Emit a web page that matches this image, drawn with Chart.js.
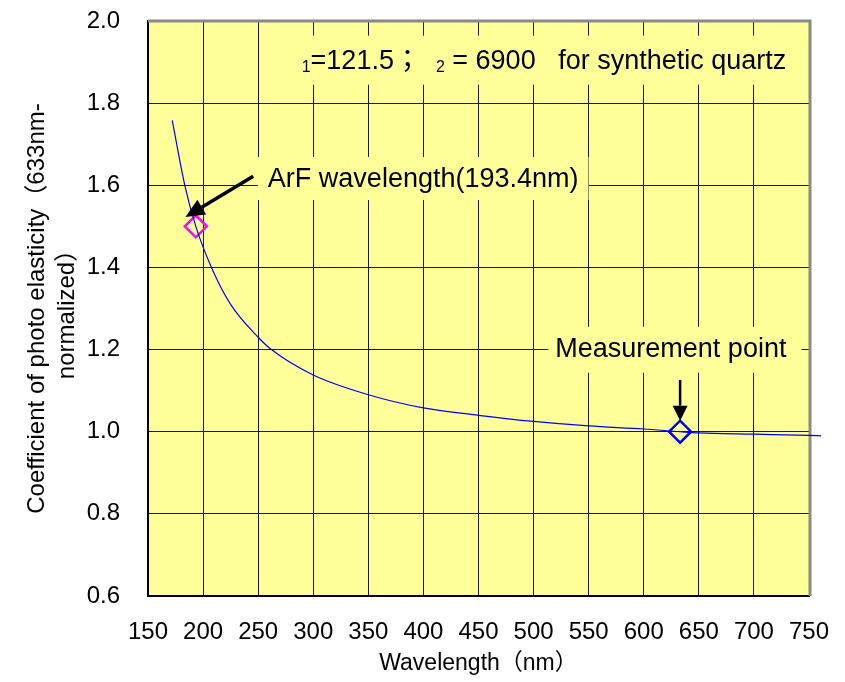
<!DOCTYPE html>
<html lang="en">
<head>
<meta charset="UTF-8">
<title>Photo elasticity vs wavelength</title>
<script src="https://cdn.jsdelivr.net/npm/chart.js@4/dist/chart.umd.min.js"></script>
<style>
  html, body { margin: 0; padding: 0; background: #fff; }
  #chart { display: block; }
</style>
</head>
<body>
<canvas id="chart" width="845" height="682"></canvas>
<script>
// values (633nm-normalized)
const wavelengths  = [172, 183.4, 193.4, 207.6, 225, 250, 262, 300, 350, 400, 450, 500, 550, 600, 633, 650, 700, 750, 761];
const coefficients = [1.758, 1.60, 1.50, 1.40, 1.31, 1.23, 1.20, 1.138, 1.09, 1.058, 1.040, 1.025, 1.014, 1.0066, 1.0, 0.997, 0.994, 0.991, 0.990];

const arfPoint     = { x: 193.4, y: 1.5 };
const measurePoint = { x: 633,   y: 1.0 };

const xTickValues = [150, 200, 250, 300, 350, 400, 450, 500, 550, 600, 650, 700, 750];
const yTickValues = [0.6, 0.8, 1.0, 1.2, 1.4, 1.6, 1.8, 2.0];

const FONT = '"Liberation Sans", Arial, "Noto Sans CJK JP", sans-serif';
const PLOT_BG = '#FFFF99';
const NOTE_SIZE = 27, SUB_SIZE = 16;

function arrow(ctx, x0, y0, x1, y1, lw, hl, hw) {
  const a = Math.atan2(y1 - y0, x1 - x0);
  const bx = x1 - hl * Math.cos(a), by = y1 - hl * Math.sin(a);
  ctx.strokeStyle = '#000'; ctx.lineWidth = lw;
  ctx.beginPath(); ctx.moveTo(x0, y0); ctx.lineTo(bx, by); ctx.stroke();
  ctx.fillStyle = '#000';
  ctx.beginPath();
  ctx.moveTo(x1, y1);
  ctx.lineTo(bx + hw / 2 * Math.sin(a), by - hw / 2 * Math.cos(a));
  ctx.lineTo(bx - hw / 2 * Math.sin(a), by + hw / 2 * Math.cos(a));
  ctx.closePath(); ctx.fill();
}

function setFont(ctx, sub) { ctx.font = (sub ? SUB_SIZE : NOTE_SIZE) + 'px ' + FONT; }

// draws [text, isSub] pieces one after another
function runText(ctx, pieces, x, y) {
  ctx.fillStyle = '#000';
  ctx.textAlign = 'left'; ctx.textBaseline = 'alphabetic';
  for (const [t, sub] of pieces) {
    setFont(ctx, sub);
    ctx.fillText(t, x, sub ? y + 3 : y);
    x += ctx.measureText(t).width;
  }
  return x;
}

function textWidth(ctx, pieces) {
  let w = 0;
  for (const [t, sub] of pieces) { setFont(ctx, sub); w += ctx.measureText(t).width; }
  return w;
}

const notes = {
  id: 'notes',
  beforeDraw(chart) {
    const { ctx, chartArea: a } = chart;
    ctx.save();
    ctx.fillStyle = PLOT_BG;
    ctx.fillRect(a.left, a.top, a.right - a.left, a.bottom - a.top);
    ctx.restore();
  },
  beforeDatasetsDraw(chart) {
    const { ctx, chartArea: a } = chart;
    ctx.save();
    ctx.strokeStyle = '#8a8a8a'; ctx.lineWidth = 3;
    ctx.beginPath();
    ctx.moveTo(a.left, a.top); ctx.lineTo(a.right + 1, a.top);
    ctx.lineTo(a.right + 1, a.bottom);
    ctx.stroke();
    ctx.restore();
  },
  afterDatasetsDraw(chart) {
    const { ctx } = chart;
    const xs = chart.scales.x, ys = chart.scales.y;
    const px = v => xs.getPixelForValue(v), py = v => ys.getPixelForValue(v);
    ctx.save();

    // constants label
    const head = [['1', true], ['=121.5', false], ['；', false], ['  ', false], ['2', true],
                  [' = 6900   for synthetic quartz', false]];
    let x = px(289.5), y = py(1.884);
    ctx.fillStyle = PLOT_BG;
    ctx.fillRect(x - 11, y - 33, textWidth(ctx, head) + 16, 49);
    runText(ctx, head, x, y);

    // ArF label and arrow
    const arf = [['ArF wavelength(193.4nm)', false]];
    x = px(258.8); y = py(1.596);
    ctx.fillStyle = PLOT_BG;
    ctx.fillRect(x - 10, y - 30, textWidth(ctx, arf) + 20, 43);
    runText(ctx, arf, x, y);
    arrow(ctx, px(245.5), py(1.622), px(184), py(1.523), 3.5, 19, 17);

    // measurement label and arrow
    const meas = [['Measurement point', false]];
    x = px(519.7); y = py(1.1825);
    ctx.fillStyle = PLOT_BG;
    ctx.fillRect(x - 7, y - 30, textWidth(ctx, meas) + 22, 46);
    runText(ctx, meas, x, y);
    arrow(ctx, px(measurePoint.x), py(1.126), px(measurePoint.x), py(1.027), 2.5, 15, 15);

    ctx.restore();
  }
};

new Chart(document.getElementById('chart'), {
  type: 'scatter',
  data: {
    datasets: [
      {
        label: 'curve',
        data: wavelengths.map((w, i) => ({ x: w, y: coefficients[i] })),
        showLine: true, borderColor: '#0000FF', borderWidth: 1.2,
        pointRadius: 0, cubicInterpolationMode: 'monotone', clip: false,
      },
      {
        label: 'ArF',
        data: [arfPoint],
        pointStyle: 'rectRot', pointRadius: 11, borderWidth: 2.5,
        borderColor: '#FF00FF', backgroundColor: 'rgba(0,0,0,0)',
      },
      {
        label: 'measurement',
        data: [measurePoint],
        pointStyle: 'rectRot', pointRadius: 11, borderWidth: 2.5,
        borderColor: '#0000FF', backgroundColor: 'rgba(0,0,0,0)',
      },
    ],
  },
  options: {
    responsive: false,
    animation: false,
    devicePixelRatio: 1,
    layout: { padding: { top: 21, right: 36, left: 0, bottom: 0 } },
    plugins: { legend: { display: false }, tooltip: { enabled: false } },
    scales: {
      x: {
        type: 'linear', bounds: 'data',
        // range set here (not min/max) so the curve past 750 is still drawn
        afterDataLimits: s => { s.min = 150; s.max = 750; },
        afterBuildTicks: s => { s.min = 150; s.max = 750; s.ticks = xTickValues.map(v => ({ value: v })); },
        afterFit: s => { s.height = 86; s.paddingLeft = 0; s.paddingRight = 0; },
        ticks: { padding: 22, color: '#000', font: { family: FONT, size: 24 }, maxRotation: 0, autoSkip: false },
        grid: { color: '#1a1a1a', lineWidth: 1, drawTicks: false },
        border: { color: '#000', width: 2 },
        title: {
          display: true, text: 'Wavelength（nm）', color: '#000',
          font: { family: FONT, size: 23 }, padding: { top: 0, bottom: 5 },
        },
      },
      y: {
        min: 0.6, max: 2.0,
        afterBuildTicks: s => { s.ticks = yTickValues.map(v => ({ value: v })); },
        afterFit: s => { s.width = 148; s.paddingTop = 0; s.paddingBottom = 0; },
        ticks: { padding: 28, color: '#000', font: { family: FONT, size: 24 }, callback: v => v.toFixed(1) },
        grid: { color: '#1a1a1a', lineWidth: 1, drawTicks: false },
        border: { color: '#000', width: 2 },
        title: {
          display: true, text: ['Coefficient of photo elasticity（633nm-', 'normalized）'], color: '#000',
          font: { family: FONT, size: 24, lineHeight: 1.25 }, padding: { top: 22, bottom: 0 },
        },
      },
    },
  },
  plugins: [notes],
});
</script>
</body>
</html>
